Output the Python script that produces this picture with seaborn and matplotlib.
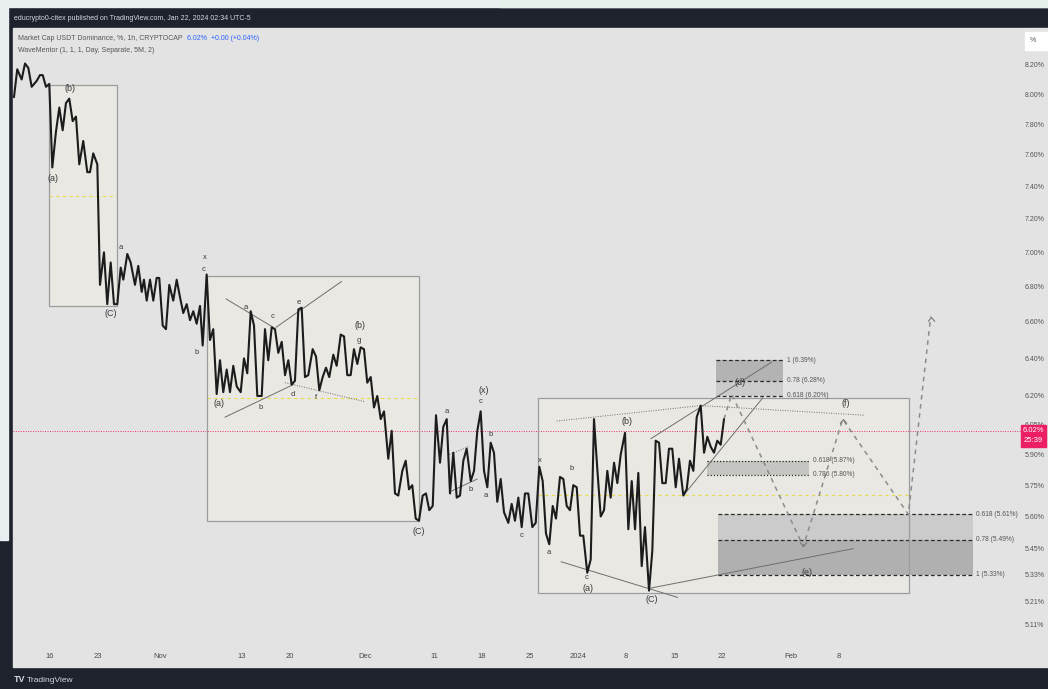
import numpy as np
import pandas as pd
import seaborn as sns
import matplotlib.pyplot as plt
import matplotlib.dates as mdates
from matplotlib.patches import Rectangle
from matplotlib.path import Path
from matplotlib.ticker import NullLocator

# USDT dominance (1h): days after 16 Oct 2023 and percent
START = pd.Timestamp('2023-10-16')
days = [-5.25, -4.77, -4.13, -3.64, -3.16, -2.67, -1.94, -1.46, -1.06, -0.58, -0.10,
        0.34, 0.87, 1.36, 1.85, 2.33, 2.81, 3.31, 3.79, 4.27, 4.85, 5.44, 5.83, 6.31,
        6.90, 7.29, 7.87, 8.35, 8.85, 9.33, 9.81, 10.31, 10.69, 11.27, 11.76, 12.39,
        12.87, 13.37, 13.70, 14.10, 14.58, 15.06, 15.55, 15.93, 16.43, 16.91, 17.39,
        17.97, 18.47, 18.95, 19.43, 19.93, 20.41, 20.89, 21.38, 21.87, 22.26, 22.84,
        23.32, 23.80, 24.30, 24.78, 25.26, 25.76, 26.24, 26.72, 27.22, 27.80, 28.28,
        28.76, 29.26, 29.74, 30.22, 30.86, 31.34, 31.82, 32.32, 32.80, 33.28, 33.78,
        34.26, 34.74, 35.23, 35.71, 36.20, 36.69, 37.17, 37.65, 38.29, 38.78, 39.26,
        39.75, 40.23, 40.71, 41.30, 41.79, 42.38, 42.86, 43.34, 43.83, 44.31, 44.80,
        45.29, 45.77, 46.25, 46.75, 47.23, 47.71, 48.21, 48.69, 49.31, 49.81, 50.29,
        50.77, 51.36, 51.85, 52.33, 52.81, 53.31, 53.79, 54.33, 54.81, 55.29, 55.79,
        56.27, 56.85, 57.33, 57.83, 58.31, 58.79, 59.29, 59.77, 60.25, 60.74, 61.33,
        61.81, 62.29, 62.78, 63.27, 63.75, 64.24, 64.72, 65.20, 65.70, 66.18, 66.81,
        67.30, 67.78, 68.27, 68.76, 69.24, 69.72, 70.31, 70.80, 71.33, 71.82, 72.30,
        72.78, 73.28, 73.76, 74.34, 74.83, 75.32, 75.80, 76.28, 76.78, 77.26, 77.74,
        78.32, 78.82, 79.30, 79.78, 80.28, 80.76, 81.24, 81.73, 82.22, 82.70, 83.19,
        83.82, 84.30, 84.80, 85.28, 85.76, 86.25, 86.73, 87.32, 87.80, 88.29, 88.78,
        89.26, 89.75, 90.23, 90.71, 91.21, 91.69, 92.32, 92.81, 93.29, 93.78, 94.27,
        94.85, 95.34, 95.82, 96.31, 96.79, 97.27, 97.77, 98.25]
dominance = [7.98, 8.17, 8.10, 8.21, 8.18, 8.05, 8.09, 8.13, 8.13, 8.05, 8.07,
             7.52, 7.75, 7.91, 7.76, 7.94, 7.97, 7.82, 7.85, 7.54, 7.69, 7.49, 7.49, 7.61,
             7.54, 6.81, 7.00, 6.70, 6.94, 6.70, 6.70, 6.91, 6.84, 6.99, 6.94, 6.81,
             6.92, 6.77, 6.84, 6.72, 6.84, 6.72, 6.85, 6.85, 6.58, 6.56, 6.81,
             6.72, 6.84, 6.74, 6.65, 6.70, 6.61, 6.66, 6.59, 6.69, 6.47, 6.87,
             6.50, 6.56, 6.21, 6.39, 6.22, 6.34, 6.22, 6.36, 6.25, 6.22, 6.40,
             6.32, 6.66, 6.58, 6.20, 6.20, 6.56, 6.39, 6.57, 6.56, 6.43, 6.49,
             6.31, 6.39, 6.26, 6.28, 6.67, 6.68, 6.30, 6.31, 6.45, 6.41, 6.23,
             6.30, 6.35, 6.30, 6.42, 6.36, 6.53, 6.52, 6.31, 6.31, 6.45, 6.37,
             6.46, 6.45, 6.27, 6.30, 6.14, 6.20, 6.08, 6.12, 5.88, 6.02, 5.71,
             5.70, 5.82, 5.87, 5.73, 5.75, 5.59, 5.58, 5.70, 5.71, 5.63, 5.65,
             6.10, 5.86, 6.04, 6.08, 5.71, 5.91, 5.69, 5.70, 5.87, 5.93, 5.77,
             5.82, 6.02, 6.12, 5.82, 5.74, 5.96, 5.91, 5.67, 5.78, 5.62, 5.57,
             5.66, 5.58, 5.69, 5.55, 5.71, 5.71, 5.55, 5.57, 5.84, 5.77, 5.52,
             5.47, 5.65, 5.59, 5.79, 5.78, 5.65, 5.63, 5.75, 5.74, 5.51, 5.51,
             5.34, 5.40, 6.08, 5.83, 5.60, 5.63, 5.82, 5.69, 5.86, 5.76, 5.90,
             6.01, 5.54, 5.77, 5.54, 5.81, 5.37, 5.55, 5.26, 5.44, 5.97, 5.96,
             5.76, 5.76, 5.93, 5.93, 5.74, 5.88, 5.70, 5.73, 5.87, 5.82, 6.09,
             6.15, 5.91, 5.99, 5.94, 5.91, 5.97, 5.95, 6.08]
last_price = 6.02

# axis ticks
tick_dates = ['2023-10-16', '2023-10-23', '2023-11-01', '2023-11-13', '2023-11-20',
              '2023-12-01', '2023-12-11', '2023-12-18', '2023-12-25', '2024-01-01',
              '2024-01-08', '2024-01-15', '2024-01-22', '2024-02-01', '2024-02-08']
tick_labels = ['16', '23', 'Nov', '13', '20', 'Dec', '11', '18', '25', '2024',
               '8', '15', '22', 'Feb', '8']
price_ticks = [8.20, 8.00, 7.80, 7.60, 7.40, 7.20, 7.00, 6.80, 6.60, 6.40, 6.20,
               6.05, 5.90, 5.75, 5.60, 5.45, 5.33, 5.21, 5.11]

# correction boxes: (day start, day end, low %, high %)
boxes = [(-0.10, 9.81, 6.69, 8.06), (22.84, 53.84, 5.58, 6.86), (71.18, 125.2, 5.25, 6.19)]

# wave labels
wave_text = ['(b)', '(a)', '(C)', 'a', 'x', 'c', 'b', '(a)', 'a', 'b', 'c', 'd', 'e', 'f',
             '(b)', 'g', '(C)', 'a', '(x)', 'c', 'b', 'b', 'a', 'c', 'x', 'b', 'a', 'c',
             '(a)', '(b)', '(C)', '(d)', '(f)', '(e)']
wave_day = [2.92, 0.39, 8.89, 10.31, 22.55, 22.45, 21.38, 24.64, 28.57, 30.76, 32.41,
            35.38, 36.25, 38.73, 45.19, 45.09, 53.79, 57.87, 63.16, 62.83, 64.24, 61.33,
            63.56, 68.70, 71.47, 76.05, 72.74, 78.24, 78.43, 84.15, 87.71, 100.58,
            116.03, 110.31]
wave_pct = [8.04, 7.45, 6.65, 7.03, 6.97, 6.90, 6.43, 6.16, 6.68, 6.14, 6.63, 6.21,
            6.71, 6.19, 6.58, 6.50, 5.53, 6.12, 6.23, 6.17, 6.00, 5.73, 5.70, 5.51,
            5.87, 5.83, 5.43, 5.32, 5.27, 6.07, 5.22, 6.27, 6.16, 5.34]

# trend lines: (day0, pct0, day1, pct1, dotted?)
trend_lines = [(25.66, 6.73, 32.55, 6.57, False), (32.94, 6.57, 42.52, 6.83, False),
               (25.51, 6.09, 35.47, 6.26, False), (34.26, 6.27, 45.92, 6.17, True),
               (58.21, 5.90, 60.98, 5.94, True), (58.41, 5.72, 62.29, 5.78, False),
               (73.86, 6.07, 94.85, 6.15, True), (94.75, 6.15, 118.8, 6.10, True),
               (74.49, 5.39, 91.50, 5.23, False), (87.32, 5.27, 117.1, 5.45, False),
               (87.57, 5.98, 105.2, 6.38, False), (92.32, 5.70, 103.89, 6.19, False)]

# projected path (d) -> (e) -> (f) -> breakout
proj_day = [98.25, 99.37, 109.81, 115.55, 125.12, 128.38]
proj_pct = [6.08, 6.21, 5.46, 6.08, 5.61, 6.63]

# fibonacci zones
fib_a_days, fib_a_ratio, fib_a_pct = (97.08, 106.89), ['1', '0.78', '0.618'], [6.39, 6.28, 6.20]
fib_b_days, fib_b_ratio, fib_b_pct = (95.73, 110.69), ['0.618', '0.786'], [5.87, 5.80]
fib_c_days, fib_c_ratio, fib_c_pct = (97.42, 134.5), ['0.618', '0.78', '1'], [5.61, 5.49, 5.33]

sns.set_style('white')
plt.rcParams['font.family'] = ['Liberation Sans', 'DejaVu Sans']

W, H = 1048, 689
fig = plt.figure(figsize=(W / 100, H / 100), dpi=100, facecolor='#1e222d')


def fx(px):
    return px / W


def fy(py):
    return 1 - py / H


# page background around the dark widget, and the light chart panel
fig.patches.append(Rectangle((0, fy(7)), 1, 7 / H, transform=fig.transFigure,
                             color='#e9eef0', zorder=-2))
fig.patches.append(Rectangle((fx(500), fy(7)), fx(548), 7 / H, transform=fig.transFigure,
                             color='#e7f1ec', zorder=-2))
fig.patches.append(Rectangle((0, fy(540)), fx(8), 533 / H, transform=fig.transFigure,
                             color='#e9eef0', zorder=-2))
fig.patches.append(Rectangle((fx(13), fy(667)), 1 - fx(13), (667 - 28) / H,
                             transform=fig.transFigure, color='#e3e3e3', zorder=-1))

ax = fig.add_axes([fx(13), fy(645), fx(1000) - fx(13), (645 - 28) / H])
ax.patch.set_visible(False)

base = mdates.date2num(START)


def dn(d):
    return base + np.asarray(d, dtype=float)


df = pd.DataFrame({'time': START + pd.to_timedelta(days, unit='D'), 'pct': dominance})
sns.lineplot(data=df, x='time', y='pct', ax=ax, color='#1c1c1c', linewidth=1.5,
             sort=False, estimator=None, zorder=4)

ax.set_yscale('log')
ax.set_ylim(5.024, 8.46)
ax.set_xlim(dn(-5.39), dn(138.48))

# boxes with midlines
for d0, d1, lo, hi in boxes:
    ax.add_patch(Rectangle((dn(d0), lo), dn(d1) - dn(d0), hi - lo, facecolor='#e9e8e2',
                           edgecolor='none', zorder=0.5))
    ax.add_patch(Rectangle((dn(d0), lo), dn(d1) - dn(d0), hi - lo, facecolor='none',
                           edgecolor='#9c9c9c', lw=0.9, zorder=2))
    ax.hlines(np.sqrt(lo * hi), dn(d0), dn(d1), colors='#e8dc4c', lw=0.8,
              linestyles=(0, (3, 3)), zorder=1)


def fib_zone(span, ratios, levels, fills, edge_style):
    x0, x1 = dn(span[0]), dn(span[1])
    for top, bot, c in zip(levels[:-1], levels[1:], fills):
        ax.fill_between([x0, x1], bot, top, color=c, lw=0, zorder=1)
    for r, lv in zip(ratios, levels):
        ax.hlines(lv, x0, x1, colors='#2b2b2b', lw=0.9, linestyles=edge_style, zorder=1.5)
        ax.text(x1 + 0.5, lv, f'{r} ({lv:.2f}%)', fontsize=4.8, color='#555555',
                ha='left', va='center')


fib_zone(fib_a_days, fib_a_ratio, fib_a_pct, ['#b3b3b3', '#cbcbcb'], (0, (3, 2)))
fib_zone(fib_b_days, fib_b_ratio, fib_b_pct, ['#c5c5c2'], (0, (1, 1.5)))
fib_zone(fib_c_days, fib_c_ratio, fib_c_pct, ['#cbcbcb', '#b0b0b0'], (0, (3, 2)))

for d0, p0, d1, p1, dotted in trend_lines:
    ax.plot(dn([d0, d1]), [p0, p1], color='#6e6e6e', lw=0.7,
            ls=(0, (1, 1.5)) if dotted else '-', zorder=2.2)

# projected path with chevrons
ax.plot(dn(proj_day), proj_pct, color='#8c8c8c', lw=1.1, ls=(0, (3, 3)), zorder=2.5)
up = Path([(-1, -1.2), (0, 0), (1, -1.2)], [Path.MOVETO, Path.LINETO, Path.LINETO])
down = Path([(-1, 1.2), (0, 0), (1, 1.2)], [Path.MOVETO, Path.LINETO, Path.LINETO])
ax.plot(dn([proj_day[3], proj_day[5]]), [proj_pct[3], proj_pct[5]], ls='none', marker=up,
        ms=6, mfc='none', mec='#7a7a7a', mew=0.8, zorder=2.5)
ax.plot(dn([proj_day[2]]), [proj_pct[2]], ls='none', marker=down,
        ms=6, mfc='none', mec='#7a7a7a', mew=0.8, zorder=2.5)

for t, d, p in zip(wave_text, wave_day, wave_pct):
    ax.text(dn(d), p, t, fontsize=6.5 if t.startswith('(') else 5.5, color='#3a3a3a',
            ha='center', va='center', zorder=5)

# last price line
ax.axhline(last_price, xmin=0, xmax=1.021, color='#f0306a', lw=0.7,
           ls=(0, (1, 1.5)), clip_on=False, zorder=1)

ax.set_xticks(dn([(pd.Timestamp(t) - START).days for t in tick_dates]))
ax.set_xticklabels(tick_labels)
ax.yaxis.tick_right()
ax.yaxis.set_minor_locator(NullLocator())
ax.set_yticks(price_ticks)
ax.set_yticklabels([f'{v:.2f}%' for v in price_ticks])
ax.tick_params(axis='x', length=0, pad=6, labelsize=5.5, labelcolor='#4a4a4a')
ax.tick_params(axis='y', length=0, pad=18, labelsize=5, labelcolor='#555555')
ax.set_xlabel('')
ax.set_ylabel('')
ax.grid(False)
for s in ax.spines.values():
    s.set_visible(False)

# header, legend and price-scale widgets
fig.text(fx(14), fy(18), 'educrypto0-citex published on TradingView.com, Jan 22, 2024 02:34 UTC-5',
         fontsize=5, color='#d6d9e0', va='center')
legend_name = fig.text(fx(18), fy(39), 'Market Cap USDT Dominance, %, 1h, CRYPTOCAP',
                       fontsize=5, color='#555555', va='center')
ax.annotate('6.02%  +0.00 (+0.04%)', xy=(1, 0.5), xycoords=legend_name, xytext=(3, 0),
            textcoords='offset points', fontsize=5, color='#2962ff', va='center',
            annotation_clip=False)
fig.text(fx(18), fy(51), 'WaveMentor (1, 1, 1, Day, Separate, 5M, 2)', fontsize=5,
         color='#555555', va='center')
fig.patches.append(Rectangle((fx(1025), fy(50)), fx(22), 18 / H, transform=fig.transFigure,
                             color='white', zorder=3))
fig.text(fx(1030), fy(41), '%', fontsize=5, color='#555555', va='center', zorder=4)
fig.patches.append(Rectangle((fx(1021), fy(447)), fx(25), 22 / H, transform=fig.transFigure,
                             color='#ec1f64', zorder=3))
fig.text(fx(1033.5), fy(431), '6.02%', fontsize=5.5, color='white', ha='center',
         va='center', zorder=4)
fig.text(fx(1033.5), fy(441), '25:39', fontsize=5.5, color='white', ha='center',
         va='center', zorder=4)
fig.text(fx(14), fy(680), 'TV', fontsize=6.5, color='#d6d9e0', va='center', weight='bold')
fig.text(fx(27), fy(680), 'TradingView', fontsize=6, color='#d6d9e0', va='center')

fig.savefig('out.png', dpi=100, facecolor=fig.get_facecolor())
